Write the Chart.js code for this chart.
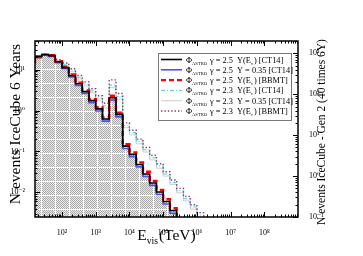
<!DOCTYPE html>
<html>
<head>
<meta charset="utf-8">
<script src="https://cdn.jsdelivr.net/npm/chart.js@4.4.1/dist/chart.umd.min.js"></script>
<style>
  html, body { margin: 0; padding: 0; background: #fff; }
  #wrap { width: 363px; height: 256px; }
</style>
</head>
<body>
<div id="wrap"><canvas id="chart" width="363" height="256"></canvas></div>
<script>
// bin edges of E_vis in TeV (0.2 decade bins)
const binEdges = [15.85, 25.12, 39.81, 63.10, 100, 158.5, 251.2, 398.1, 631.0, 1000,
  1585, 2512, 3981, 6310, 10000, 15849, 25119, 39811, 63096, 100000,
  158489, 251189, 398107, 630957, 1000000, 1584893, 2511886, 3981072];

// events per bin (IceCube 6 years), 1e-4 = below the plotted range
const g25_YE_CT14 = [15.7, 21, 23.4, 22, 15.5, 11.2, 7.1, 4.5, 2.9, 1.75, 1.1, 0.62, 2.05, 0.8,
  0.135, 0.085, 0.048, 0.028, 0.017, 0.0102, 0.006, 0.0036, 1e-4];
const g25_Y035_CT14 = [16.0, 21, 23, 21, 14.8, 10.5, 6.6, 4.1, 2.6, 1.55, 0.97, 0.55, 1.8, 0.7,
  0.118, 0.074, 0.042, 0.0245, 0.0148, 0.0089, 0.0052, 0.0031, 1e-4];
const g25_YE_BBMT = [14.0, 20, 23, 22.5, 16, 11.8, 7.6, 4.8, 3.1, 1.9, 1.2, 0.68, 2.3, 0.88,
  0.15, 0.095, 0.054, 0.032, 0.019, 0.0115, 0.0068, 0.0041, 1e-4];
const g23_YE_CT14 = [15.3, 21, 23.5, 22.5, 16.5, 13.5, 9.6, 6.5, 4.4, 3.0, 2.0, 1.3, 4.2, 2.2,
  0.43, 0.29, 0.175, 0.11, 0.07, 0.044, 0.028, 0.0175, 0.011, 0.007, 0.0044, 0.0028, 1e-4];
const g23_Y035_CT14 = [15.5, 21, 23, 21.5, 15.5, 12.5, 8.8, 5.9, 4.0, 2.7, 1.8, 1.15, 3.7, 1.9,
  0.38, 0.255, 0.154, 0.097, 0.062, 0.039, 0.025, 0.0155, 0.0097, 0.0062, 0.0039, 1e-4];
const g23_YE_BBMT = [15, 20.5, 23.5, 23, 17.5, 14.5, 10.5, 7.2, 5.0, 3.4, 2.3, 1.5, 5.6, 2.6,
  0.5, 0.33, 0.2, 0.125, 0.08, 0.05, 0.032, 0.02, 0.0125, 0.008, 0.005, 0.0032, 1e-4];

const seriesLabels = [
  'Φ_{ASTRO} γ = 2.5  Y(E_{ν}) [CT14]',
  'Φ_{ASTRO} γ = 2.5  Y = 0.35 [CT14]',
  'Φ_{ASTRO} γ = 2.5  Y(E_{ν}) [BBMT]',
  'Φ_{ASTRO} γ = 2.3  Y(E_{ν}) [CT14]',
  'Φ_{ASTRO} γ = 2.3  Y = 0.35 [CT14]',
  'Φ_{ASTRO} γ = 2.3  Y(E_{ν}) [BBMT]'
];

const SERIF = '"Liberation Serif", "DejaVu Serif", serif';
const SUP = { '0': '⁰', '1': '¹', '2': '²', '3': '³', '4': '⁴', '5': '⁵', '6': '⁶', '7': '⁷', '8': '⁸', '9': '⁹', '-': '⁻' };

function isPow10(v) {
  const l = Math.log10(v);
  return Math.abs(l - Math.round(l)) < 1e-6;
}
function powLabel(v) {
  if (!isPow10(v)) return '';
  const e = String(Math.round(Math.log10(v)));
  return '10' + e.split('').map(c => SUP[c]).join('');
}
// 1..9 x 10^n ticks inside the axis range
function logTicks(scale) {
  const ticks = [];
  const lo = Math.floor(Math.log10(scale.min)), hi = Math.ceil(Math.log10(scale.max));
  for (let e = lo; e <= hi; e++) {
    for (let m = 1; m < 10; m++) {
      const v = m * Math.pow(10, e);
      if (v >= scale.min * 0.999 && v <= scale.max * 1.001) ticks.push({ value: v });
    }
  }
  scale.ticks = ticks;
}

// histogram -> step points at bin edges
function steps(values) {
  const pts = values.map((v, i) => ({ x: binEdges[i], y: v }));
  pts.push({ x: binEdges[values.length], y: values[values.length - 1] });
  return pts;
}

// text with _{..} subscripts
function richWidth(ctx, str, size, subRatio) {
  let w = 0;
  str.split(/(_\{[^}]*\})/).forEach(p => {
    if (!p) return;
    const sub = p.startsWith('_{');
    ctx.font = (sub ? size * (subRatio || 0.62) : size) + 'px ' + SERIF;
    w += ctx.measureText(sub ? p.slice(2, -1) : p).width;
  });
  return w;
}
function drawRich(ctx, str, x, y, size, subRatio) {
  str.split(/(_\{[^}]*\})/).forEach(p => {
    if (!p) return;
    const sub = p.startsWith('_{');
    const t = sub ? p.slice(2, -1) : p;
    ctx.font = (sub ? size * (subRatio || 0.62) : size) + 'px ' + SERIF;
    ctx.fillText(t, x, sub ? y + size * 0.25 : y);
    x += ctx.measureText(t).width + (sub ? 1 : 0);
  });
  return x;
}

const canvas = document.getElementById('chart');
const ctx = canvas.getContext('2d');

function dotPattern() {
  const t = document.createElement('canvas');
  t.width = 14; t.height = 14;
  const g = t.getContext('2d');
  g.fillStyle = '#ececec';
  g.fillRect(0, 0, 14, 14);
  g.fillStyle = '#a8a8a8';
  for (let y = 0; y < 13; y++)
    for (let x = 0; x < 13; x++)
      if ((x + y) % 2 === 0) g.fillRect(x, y, 1, 1);
  g.fillStyle = '#fff';
  g.fillRect(0, 13, 14, 1);
  g.fillRect(13, 0, 1, 14);
  return ctx.createPattern(t, 'repeat');
}

const frameTicks = {
  id: 'frameTicks',
  afterDatasetsDraw(chart) {
    const { ctx, chartArea: a, scales } = chart;
    const len = v => isPow10(v) ? 5 : 2.5;
    ctx.save();
    ctx.strokeStyle = '#000';
    ctx.lineWidth = 1;
    ctx.beginPath();
    scales.x.ticks.forEach(t => {
      const px = Math.round(scales.x.getPixelForValue(t.value)) + 0.5;
      ctx.moveTo(px, a.bottom); ctx.lineTo(px, a.bottom - len(t.value));
      ctx.moveTo(px, a.top); ctx.lineTo(px, a.top + len(t.value));
    });
    scales.y.ticks.forEach(t => {
      const py = Math.round(scales.y.getPixelForValue(t.value)) + 0.5;
      ctx.moveTo(a.left, py); ctx.lineTo(a.left + len(t.value), py);
    });
    scales.y2.ticks.forEach(t => {
      const py = Math.round(scales.y2.getPixelForValue(t.value)) + 0.5;
      ctx.moveTo(a.right, py); ctx.lineTo(a.right - len(t.value), py);
    });
    ctx.stroke();
    ctx.lineWidth = 1.5;
    ctx.strokeRect(a.left, a.top, a.right - a.left, a.bottom - a.top);
    ctx.restore();
  },
  afterDraw(chart) {
    const { ctx } = chart;
    ctx.save();
    ctx.fillStyle = '#000';
    ctx.textBaseline = 'alphabetic';
    // axis titles
    const left = 'N events IceCube 6 Years';
    ctx.save();
    ctx.translate(19.5, 124);
    ctx.rotate(-Math.PI / 2);
    drawRich(ctx, left, -richWidth(ctx, left, 15.5) / 2, 0, 15.5);
    ctx.restore();
    const right = 'N events IceCube - Gen 2 (40 times 6Y)';
    ctx.save();
    ctx.translate(325, 132);
    ctx.rotate(-Math.PI / 2);
    drawRich(ctx, right, -richWidth(ctx, right, 11.5) / 2, 0, 11.5);
    ctx.restore();
    const bottom = 'E_{vis}(TeV)';
    drawRich(ctx, bottom, 166 - richWidth(ctx, bottom, 15.5) / 2, 240, 15.5);

    // legend box
    const lx = 158, ly = 53, lw = 133, lh = 67;
    ctx.fillStyle = '#fff';
    ctx.fillRect(lx, ly, lw, lh);
    ctx.strokeStyle = '#777';
    ctx.lineWidth = 1;
    ctx.strokeRect(lx + 0.5, ly + 0.5, lw, lh);
    chart.data.datasets.forEach((ds, i) => {
      const y = ly + 6.5 + i * 10.3;
      ctx.save();
      ctx.strokeStyle = ds.borderColor;
      ctx.lineWidth = ds.borderWidth;
      ctx.setLineDash(ds.borderDash || []);
      ctx.beginPath();
      ctx.moveTo(161, y); ctx.lineTo(182, y);
      ctx.stroke();
      ctx.restore();
      ctx.fillStyle = '#000';
      drawRich(ctx, ds.label, 186, y + 3, 8.3, 0.55);
    });
    ctx.restore();
  }
};

const logAxisTicks = {
  autoSkip: false,
  maxRotation: 0,
  color: '#000',
  font: { family: SERIF, size: 8 },
  callback: v => powLabel(v)
};

new Chart(ctx, {
  type: 'line',
  data: {
    datasets: [
      { label: seriesLabels[0], data: steps(g25_YE_CT14), borderColor: '#000', borderWidth: 1.6,
        fill: 'start', backgroundColor: dotPattern(), order: 0 },
      { label: seriesLabels[1], data: steps(g25_Y035_CT14), borderColor: '#5050ff', borderWidth: 1.6,
        fill: false, order: 2 },
      { label: seriesLabels[2], data: steps(g25_YE_BBMT), borderColor: '#ff0000', borderWidth: 2.4,
        borderDash: [5, 3], fill: false, order: 1 },
      { label: seriesLabels[3], data: steps(g23_YE_CT14), borderColor: '#40d8d8', borderWidth: 1,
        borderDash: [4, 2, 1, 2], fill: false, order: 4 },
      { label: seriesLabels[4], data: steps(g23_Y035_CT14), borderColor: '#cccccc', borderWidth: 1,
        fill: false, order: 5 },
      { label: seriesLabels[5], data: steps(g23_YE_BBMT), borderColor: '#8a3a70', borderWidth: 1.4,
        borderDash: [1.4, 2], fill: false, order: 3 }
    ]
  },
  options: {
    responsive: false,
    animation: false,
    devicePixelRatio: 1,
    layout: { padding: { top: 41, left: 0, right: 0, bottom: 0 } },
    elements: {
      line: { stepped: 'after', tension: 0 },
      point: { radius: 0 }
    },
    plugins: {
      legend: { display: false },
      tooltip: { enabled: false },
      filler: { drawTime: 'beforeDatasetsDraw' }
    },
    scales: {
      x: {
        type: 'logarithmic', position: 'bottom', min: 15.85, max: 9.9e8,
        grid: { display: false }, border: { display: false },
        ticks: Object.assign({ padding: 3 }, logAxisTicks),
        afterBuildTicks: logTicks,
        afterFit: s => { s.height = 39; }
      },
      y: {
        type: 'logarithmic', position: 'left', min: 0.0025, max: 50,
        grid: { display: false }, border: { display: false },
        ticks: Object.assign({ padding: 2 }, logAxisTicks),
        afterBuildTicks: logTicks,
        afterFit: s => { s.width = 35; }
      },
      y2: {
        type: 'logarithmic', position: 'right', min: 0.1, max: 2000,
        grid: { display: false }, border: { display: false },
        ticks: Object.assign({ padding: 3 }, logAxisTicks),
        afterBuildTicks: logTicks,
        afterFit: s => { s.width = 65; }
      }
    }
  },
  plugins: [frameTicks]
});
</script>
</body>
</html>
